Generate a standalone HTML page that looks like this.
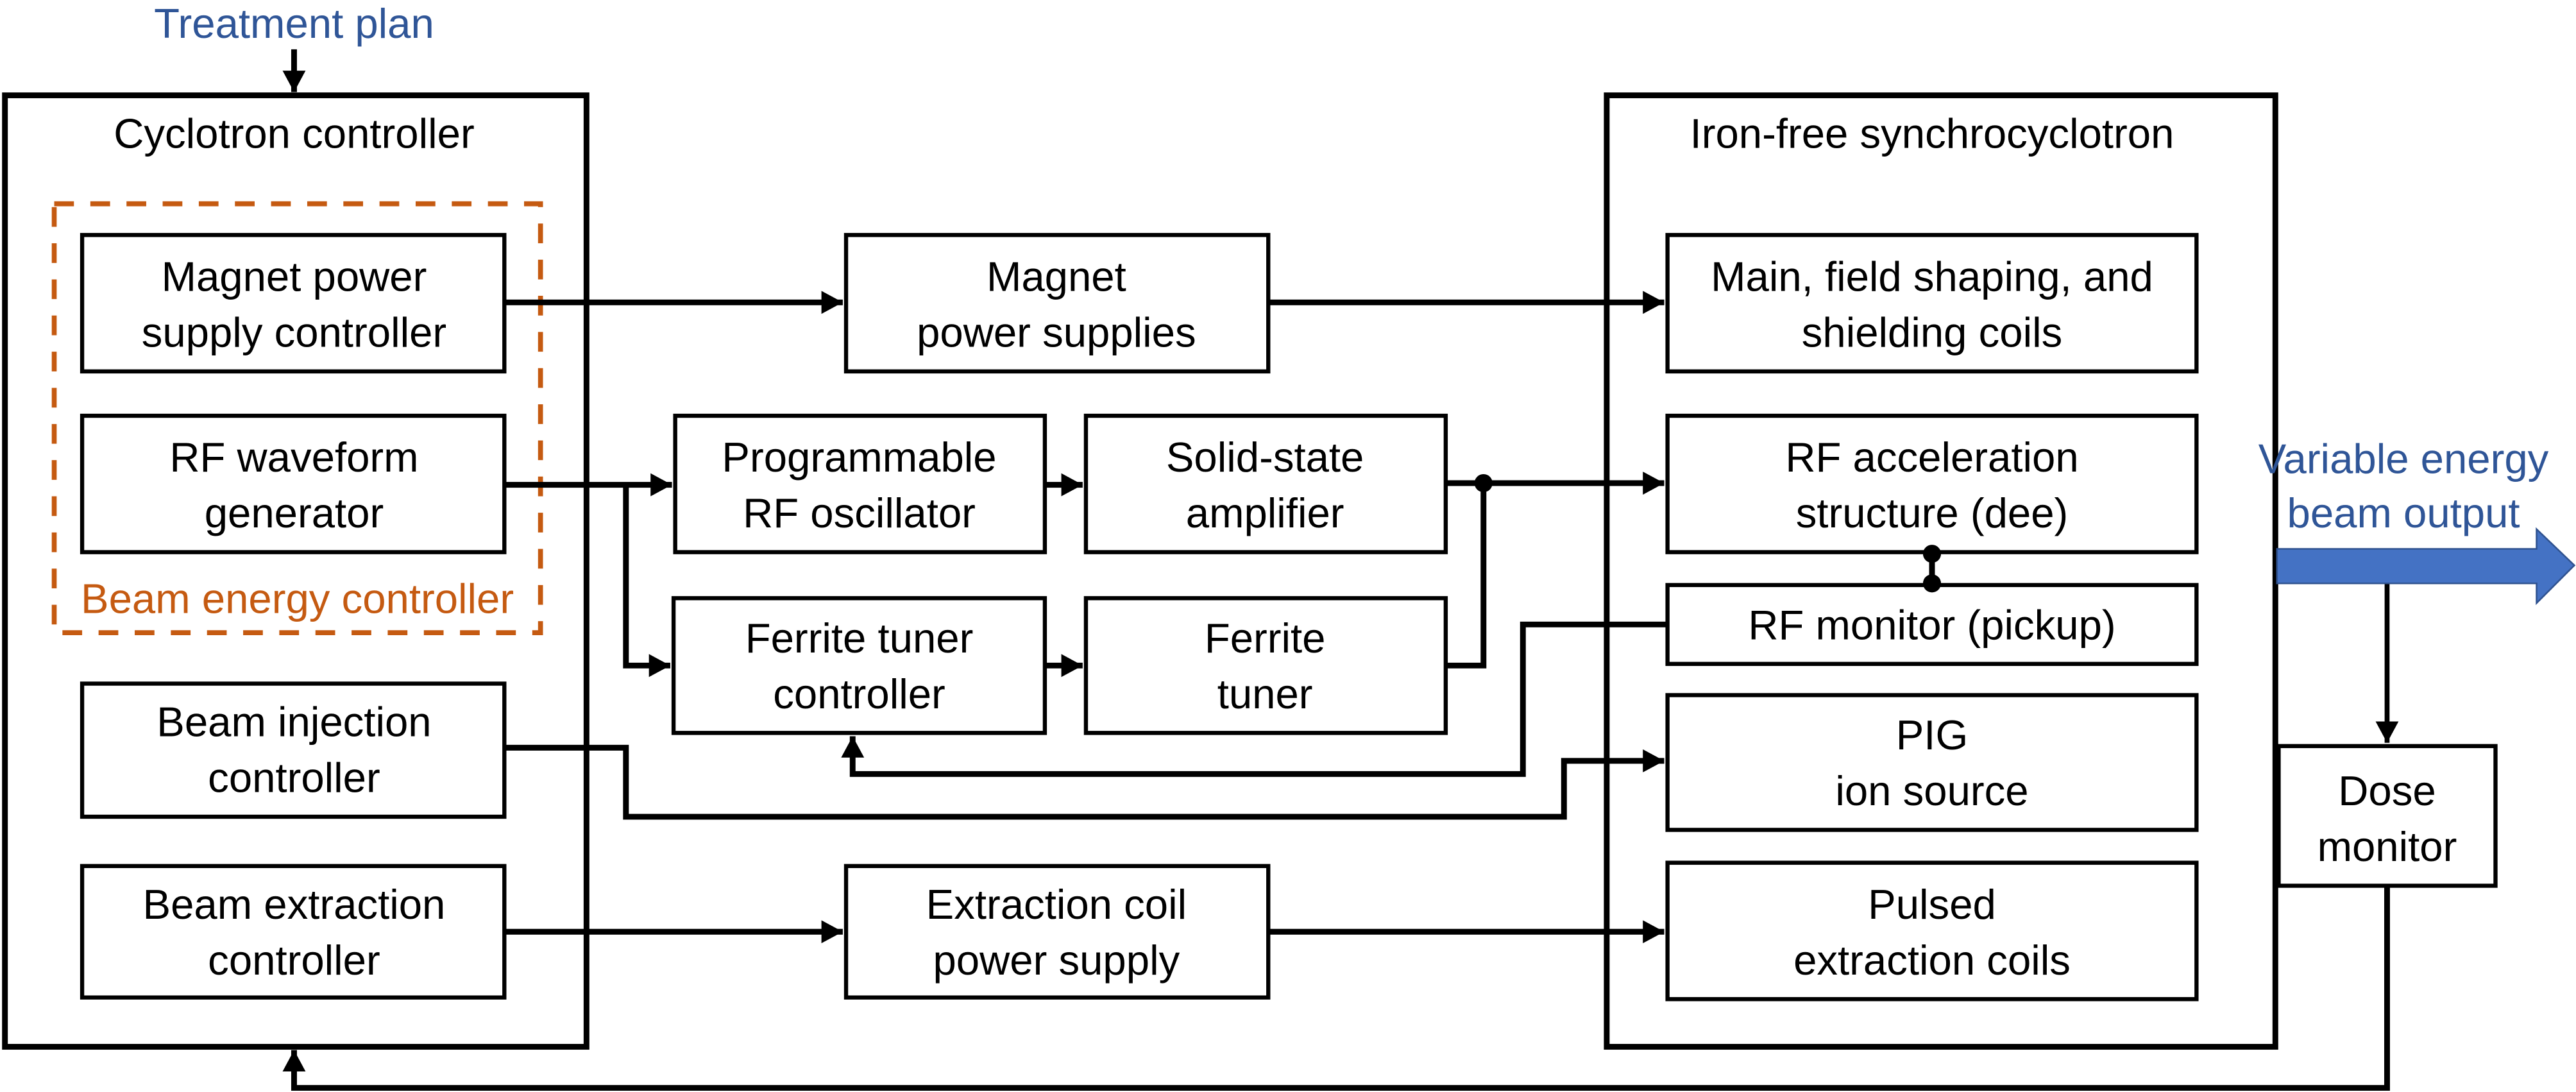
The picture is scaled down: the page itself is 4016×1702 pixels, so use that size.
<!DOCTYPE html>
<html><head><meta charset="utf-8"><style>
html,body{margin:0;padding:0;background:#fff;}
svg{display:block;}
text{font-family:"Liberation Sans",sans-serif;font-size:25.5px;fill:#000;}
.b{fill:#2f5597;}
.o{fill:#c55a11;}
</style></head><body>
<svg width="4016" height="1702" viewBox="0 0 1568 664.5" xmlns="http://www.w3.org/2000/svg">
<defs>
<marker id="a" markerUnits="userSpaceOnUse" markerWidth="16" markerHeight="16" refX="13" refY="7" orient="auto">
<path d="M0,0 L13,7 L0,14 z" fill="#000"/>
</marker>
</defs>
<rect width="1568" height="664.5" fill="#fff"/>
<g fill="none" stroke="#000" stroke-width="3.5">
<rect x="3" y="58" width="354" height="579"/>
<rect x="978" y="58" width="407" height="579"/>
<rect x="50" y="143" width="257" height="83" stroke-width="2.5"/>
<rect x="50" y="253" width="257" height="83" stroke-width="2.5"/>
<rect x="50" y="416" width="257" height="81" stroke-width="2.5"/>
<rect x="50" y="527" width="257" height="80" stroke-width="2.5"/>
<rect x="515" y="143" width="257" height="83" stroke-width="2.5"/>
<rect x="411" y="253" width="225" height="83" stroke-width="2.5"/>
<rect x="661" y="253" width="219" height="83" stroke-width="2.5"/>
<rect x="410" y="364" width="226" height="82" stroke-width="2.5"/>
<rect x="661" y="364" width="219" height="82" stroke-width="2.5"/>
<rect x="515" y="527" width="257" height="80" stroke-width="2.5"/>
<rect x="1015" y="143" width="322" height="83" stroke-width="2.5"/>
<rect x="1015" y="253" width="322" height="83" stroke-width="2.5"/>
<rect x="1015" y="356" width="322" height="48" stroke-width="2.5"/>
<rect x="1015" y="423" width="322" height="82" stroke-width="2.5"/>
<rect x="1015" y="525" width="322" height="83" stroke-width="2.5"/>
<rect x="1387" y="454" width="132" height="85" stroke-width="2.5"/>
<rect x="33" y="124" width="296" height="261" stroke="#c55a11" stroke-width="3" stroke-dasharray="12,10"/>
</g>
<g fill="none" stroke="#000" stroke-width="3.5">
<line x1="179" y1="30" x2="179" y2="56" marker-end="url(#a)"/>
<line x1="307" y1="184" x2="513" y2="184" marker-end="url(#a)"/>
<line x1="772" y1="184" x2="1013" y2="184" marker-end="url(#a)"/>
<line x1="307" y1="295" x2="409" y2="295" marker-end="url(#a)"/>
<polyline points="381,295 381,405 408,405" marker-end="url(#a)"/>
<line x1="636" y1="295" x2="659" y2="295" marker-end="url(#a)"/>
<line x1="636" y1="405" x2="659" y2="405" marker-end="url(#a)"/>
<line x1="880" y1="294" x2="1013" y2="294" marker-end="url(#a)"/>
<polyline points="880,405 903,405 903,294"/>
<polyline points="1015,380 927,380 927,471 519,471 519,448" marker-end="url(#a)"/>
<polyline points="307,455 381,455 381,497 952,497 952,463 1013,463" marker-end="url(#a)"/>
<line x1="307" y1="567" x2="513" y2="567" marker-end="url(#a)"/>
<line x1="772" y1="567" x2="1013" y2="567" marker-end="url(#a)"/>
<line x1="1176" y1="336" x2="1176" y2="356"/>
<line x1="1453" y1="355" x2="1453" y2="452" marker-end="url(#a)" stroke-width="3"/>
<polyline points="1453,539 1453,662 179,662 179,639" marker-end="url(#a)"/>
</g>
<circle cx="903" cy="294" r="5.5"/>
<circle cx="1176" cy="337" r="5.5"/>
<circle cx="1176" cy="355" r="5.5"/>
<path d="M1386,334 L1544,334 L1544,322 L1567,344 L1544,367 L1544,355 L1386,355 z" fill="#4472c4" stroke="#2f528f" stroke-width="1"/>
<g text-anchor="middle">
<text class="b" x="179" y="23">Treatment plan</text>
<text x="179" y="90">Cyclotron controller</text>
<text x="1176" y="90">Iron-free synchrocyclotron</text>
<text class="o" x="181" y="373">Beam energy controller</text>
<text x="179" y="177">Magnet power</text><text x="179" y="211">supply controller</text>
<text x="179" y="287">RF waveform</text><text x="179" y="321">generator</text>
<text x="179" y="448">Beam injection</text><text x="179" y="482">controller</text>
<text x="179" y="559">Beam extraction</text><text x="179" y="593">controller</text>
<text x="643" y="177">Magnet</text><text x="643" y="211">power supplies</text>
<text x="523" y="287">Programmable</text><text x="523" y="321">RF oscillator</text>
<text x="770" y="287">Solid-state</text><text x="770" y="321">amplifier</text>
<text x="523" y="397">Ferrite tuner</text><text x="523" y="431">controller</text>
<text x="770" y="397">Ferrite</text><text x="770" y="431">tuner</text>
<text x="643" y="559">Extraction coil</text><text x="643" y="593">power supply</text>
<text x="1176" y="177">Main, field shaping, and</text><text x="1176" y="211">shielding coils</text>
<text x="1176" y="287">RF acceleration</text><text x="1176" y="321">structure (dee)</text>
<text x="1176" y="389">RF monitor (pickup)</text>
<text x="1176" y="456">PIG</text><text x="1176" y="490">ion source</text>
<text x="1176" y="559">Pulsed</text><text x="1176" y="593">extraction coils</text>
<text x="1453" y="490">Dose</text><text x="1453" y="524">monitor</text>
<text class="b" x="1463" y="288">Variable energy</text><text class="b" x="1463" y="321">beam output</text>
</g>
</svg>
</body></html>
